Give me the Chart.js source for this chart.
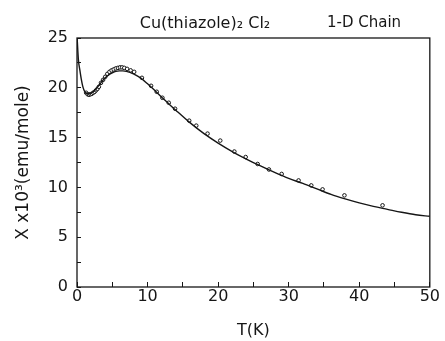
<!DOCTYPE html>
<html>
<head>
<meta charset="utf-8">
<script src="https://cdn.jsdelivr.net/npm/chart.js@4.4.1/dist/chart.umd.min.js"></script>
<style>
  html, body { margin: 0; padding: 0; background: #fff; }
  #wrap { width: 445px; height: 341px; }
</style>
</head>
<body>
<div id="wrap"><canvas id="chart" width="445" height="341"></canvas></div>
<script>
// fitted 1-D chain curve
var curveT   = [0.02, 0.2, 0.4, 0.6, 0.8, 1.0, 1.2, 1.5, 1.8, 2.2, 2.6, 3.0, 3.5, 4.0, 4.5, 5.0, 5.5, 6.0, 6.5, 7.0, 8.0, 9.0, 10, 11, 12, 13, 14, 16, 18, 20, 22, 24, 26, 28, 30, 32, 34, 36, 38, 40, 42, 44, 46, 48, 50];
var curveChi = [25.0, 22.8, 21.8, 20.9, 20.2, 19.75, 19.5, 19.4, 19.42, 19.55, 19.8, 20.15, 20.6, 21.0, 21.3, 21.5, 21.65, 21.7, 21.7, 21.65, 21.4, 21.0, 20.4, 19.75, 19.05, 18.4, 17.75, 16.5, 15.4, 14.45, 13.6, 12.85, 12.15, 11.5, 10.9, 10.4, 9.85, 9.3, 8.85, 8.45, 8.1, 7.8, 7.5, 7.25, 7.1];

// measured points
var dataT   = [1.3, 1.5, 1.7, 1.9, 2.1, 2.3, 2.5, 2.7, 2.9, 3.1, 3.4, 3.7, 4.0, 4.3, 4.6, 4.9, 5.2, 5.5, 5.8, 6.1, 6.4, 6.7, 7.1, 7.6, 8.1, 9.2, 10.5, 11.3, 12.1, 13.0, 13.9, 15.9, 16.9, 18.5, 20.3, 22.3, 23.9, 25.6, 27.2, 29.0, 31.4, 33.2, 34.8, 37.9, 43.3];
var dataChi = [19.5, 19.35, 19.3, 19.35, 19.4, 19.5, 19.6, 19.75, 19.9, 20.1, 20.5, 20.8, 21.1, 21.4, 21.6, 21.75, 21.85, 21.95, 22.0, 22.05, 22.05, 22.0, 21.9, 21.75, 21.6, 21.0, 20.2, 19.6, 19.0, 18.5, 17.9, 16.7, 16.2, 15.4, 14.7, 13.6, 13.05, 12.35, 11.8, 11.35, 10.7, 10.2, 9.8, 9.2, 8.2];

var xTicks = [0, 10, 20, 30, 40, 50];
var yTicks = [0, 5, 10, 15, 20, 25];

var titleLeft = 'Cu(thiazole)\u2082 Cl\u2082';
var titleRight = '1-D Chain';
var xTitle = 'T(K)';
var yTitle = 'X x10\u00b3(emu/mole)';

var ink = '#161616';
var fam = '"DejaVu Sans", sans-serif';

function pairs(xs, ys) {
  return xs.map(function (x, i) { return { x: x, y: ys[i] }; });
}

var frame = {
  id: 'frame',
  afterDraw: function (chart) {
    var ctx = chart.ctx, a = chart.chartArea;
    ctx.save();
    ctx.strokeStyle = ink;
    ctx.lineWidth = 1.3;
    ctx.strokeRect(a.left, a.top, a.right - a.left, a.bottom - a.top);
    ctx.fillStyle = ink;
    ctx.font = '16px ' + fam;
    ctx.textAlign = 'center';
    ctx.textBaseline = 'middle';
    ctx.fillText(titleLeft, 205, 24);
    ctx.font = '15px ' + fam;
    ctx.fillText(titleRight, 364, 23);
    ctx.restore();
  }
};

new Chart(document.getElementById('chart'), {
  type: 'scatter',
  data: {
    datasets: [
      {
        label: 'fit',
        data: pairs(curveT, curveChi),
        showLine: true,
        borderColor: ink,
        borderWidth: 1.4,
        pointRadius: 0,
        cubicInterpolationMode: 'monotone',
        fill: false
      },
      {
        label: 'data',
        data: pairs(dataT, dataChi),
        showLine: false,
        pointStyle: 'circle',
        pointRadius: 1.8,
        borderWidth: 1,
        borderColor: ink,
        backgroundColor: '#fff'
      }
    ]
  },
  options: {
    responsive: false,
    animation: false,
    layout: { padding: { top: 38, right: 14, left: 0, bottom: 0 } },
    plugins: { legend: { display: false }, tooltip: { enabled: false } },
    scales: {
      x: {
        type: 'linear',
        min: 0, max: 50,
        afterFit: function (s) { s.height = 54; },
        border: { display: false },
        grid: { drawOnChartArea: false, tickLength: -5, color: ink },
        ticks: {
          stepSize: 5,
          padding: 5,
          color: ink,
          font: { family: fam, size: 16 },
          maxRotation: 0,
          callback: function (v) { return xTicks.indexOf(v) >= 0 ? v : ''; }
        },
        title: { display: true, text: xTitle, color: ink, font: { family: fam, size: 16 }, padding: { top: 0, bottom: 1 } }
      },
      y: {
        type: 'linear',
        min: 0, max: 25,
        afterFit: function (s) { s.width = 77; },
        border: { display: false },
        grid: { drawOnChartArea: false, tickLength: -4, color: ink },
        ticks: {
          stepSize: 2.5,
          padding: 13,
          color: ink,
          font: { family: fam, size: 16 },
          callback: function (v) { return yTicks.indexOf(v) >= 0 ? v : ''; }
        },
        title: { display: true, text: yTitle, color: ink, font: { family: fam, size: 17 }, padding: { top: 13, bottom: 0 } }
      }
    }
  },
  plugins: [frame]
});
</script>
</body>
</html>
